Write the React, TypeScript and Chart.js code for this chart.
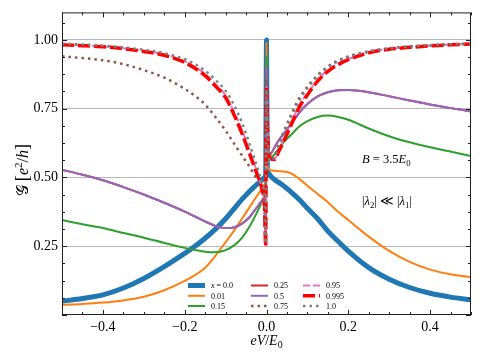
import React, { useEffect, useRef } from "react";
import { Chart, registerables } from "chart.js";

Chart.register(...registerables);

// ---------- data ----------
const xs = [
  -0.5, -0.45, -0.4, -0.35, -0.3, -0.25, -0.2, -0.175, -0.15, -0.125, -0.1, -0.08, -0.06, -0.04, -0.03, -0.02,
  -0.01, -0.005, -0.002, 0, 0.002, 0.005, 0.01, 0.02, 0.03, 0.04, 0.06, 0.08, 0.1, 0.125, 0.15, 0.175, 0.2,
  0.25, 0.3, 0.35, 0.4, 0.45, 0.5,
];

const g_x000 = [
  0.05, 0.06, 0.073, 0.098, 0.133, 0.176, 0.224, 0.25, 0.279, 0.312, 0.35, 0.385, 0.42, 0.452, 0.466, 0.479,
  0.492, 0.5, 0.51, 1.0, 0.53, 0.515, 0.505, 0.492, 0.482, 0.472, 0.447, 0.42, 0.388, 0.35, 0.305, 0.268, 0.232,
  0.172, 0.13, 0.1, 0.079, 0.065, 0.055,
];
const g_x001 = [
  0.037, 0.04, 0.045, 0.053, 0.066, 0.09, 0.124, 0.145, 0.172, 0.215, 0.265, 0.305, 0.35, 0.395, 0.418, 0.44,
  0.463, 0.475, 0.49, 0.99, 0.545, 0.53, 0.526, 0.524, 0.523, 0.522, 0.515, 0.495, 0.47, 0.44, 0.41, 0.375, 0.345,
  0.285, 0.233, 0.193, 0.165, 0.148, 0.137,
];
const g_x015 = [
  0.345, 0.33, 0.316, 0.298, 0.281, 0.262, 0.244, 0.236, 0.23, 0.228, 0.236, 0.252, 0.28, 0.325, 0.353, 0.383,
  0.415, 0.43, 0.45, 0.94, 0.6, 0.565, 0.57, 0.585, 0.605, 0.625, 0.655, 0.685, 0.705, 0.72, 0.725, 0.72, 0.71,
  0.678, 0.65, 0.628, 0.61, 0.594, 0.578,
];
const g_x025 = [
  0.528, 0.51, 0.49, 0.465, 0.438, 0.408, 0.376, 0.358, 0.34, 0.324, 0.316, 0.318, 0.332, 0.358, 0.378, 0.398,
  0.418, 0.43, 0.45, 0.9, 0.62, 0.58, 0.585, 0.61, 0.635, 0.655, 0.695, 0.735, 0.767, 0.795, 0.81, 0.817, 0.818,
  0.81, 0.795, 0.78, 0.765, 0.752, 0.74,
];
const g_x050 = [
  0.528, 0.51, 0.49, 0.465, 0.438, 0.408, 0.376, 0.358, 0.34, 0.324, 0.316, 0.318, 0.332, 0.358, 0.378, 0.398,
  0.418, 0.43, 0.45, 0.9, 0.62, 0.58, 0.585, 0.61, 0.635, 0.655, 0.695, 0.735, 0.767, 0.795, 0.81, 0.817, 0.818,
  0.81, 0.795, 0.78, 0.765, 0.752, 0.74,
];
const g_x075 = [
  0.94, 0.934, 0.926, 0.912, 0.89, 0.863, 0.822, 0.797, 0.765, 0.72, 0.67, 0.625, 0.58, 0.535, 0.51, 0.488,
  0.46, 0.43, 0.28, 0.855, 0.7, 0.6, 0.565, 0.58, 0.62, 0.658, 0.728, 0.788, 0.83, 0.872, 0.903, 0.925, 0.94,
  0.958, 0.969, 0.976, 0.98, 0.983, 0.986,
];
const g_x095 = [
  0.983, 0.98, 0.976, 0.97, 0.96, 0.947, 0.922, 0.902, 0.876, 0.84, 0.798, 0.74, 0.672, 0.59, 0.55, 0.507,
  0.455, 0.405, 0.25, 0.83, 0.7, 0.6, 0.565, 0.567, 0.6, 0.632, 0.698, 0.762, 0.806, 0.855, 0.89, 0.913, 0.931,
  0.955, 0.967, 0.974, 0.979, 0.983, 0.986,
];
const g_x0995 = [
  0.982, 0.979, 0.975, 0.968, 0.958, 0.944, 0.918, 0.897, 0.87, 0.832, 0.79, 0.73, 0.66, 0.58, 0.54, 0.5,
  0.45, 0.4, 0.25, 0.83, 0.7, 0.6, 0.568, 0.565, 0.595, 0.625, 0.69, 0.755, 0.8, 0.85, 0.886, 0.91, 0.928,
  0.953, 0.966, 0.973, 0.978, 0.982, 0.985,
];
const g_x100 = [
  0.986, 0.983, 0.979, 0.973, 0.964, 0.952, 0.93, 0.912, 0.888, 0.855, 0.815, 0.765, 0.7, 0.615, 0.57, 0.525,
  0.47, 0.42, 0.26, 0.82, 0.68, 0.59, 0.56, 0.575, 0.615, 0.65, 0.72, 0.78, 0.825, 0.868, 0.9, 0.922, 0.938,
  0.958, 0.969, 0.976, 0.981, 0.984, 0.987,
];

const seriesLabels = ["x = 0.0", "0.01", "0.15", "0.25", "0.5", "0.75", "0.95", "0.995", "1.0"];
const seriesValues = [g_x000, g_x001, g_x015, g_x025, g_x050, g_x075, g_x095, g_x0995, g_x100];

const xTickValues = [-0.4, -0.2, 0, 0.2, 0.4];
const yTickValues = [0.25, 0.5, 0.75, 1.0];

// ---------- styles ----------
const styles = [
  { color: "#1f77b4", width: 5, dash: [] as number[] },
  { color: "#ff7f0e", width: 2, dash: [] },
  { color: "#2ca02c", width: 2, dash: [] },
  { color: "#d62728", width: 2, dash: [] },
  { color: "#9467bd", width: 2, dash: [] },
  { color: "#8c564b", width: 2.5, dash: [2.5, 4] },
  { color: "#e377c2", width: 2, dash: [7, 3] },
  { color: "#ff0000", width: 3.5, dash: [12, 4] },
  { color: "#7f7f7f", width: 2.5, dash: [2.5, 4] },
];

const SERIF = '"Liberation Serif", "DejaVu Serif", serif';

type Seg = { t: string; it?: boolean; sub?: boolean; sup?: boolean; scale?: number };

function segFont(s: Seg, size: number) {
  const sz = (s.sub || s.sup ? size * 0.7 : size) * (s.scale || 1);
  return `${s.it ? "italic " : ""}${sz}px ${SERIF}`;
}

function drawRich(ctx: CanvasRenderingContext2D, segs: Seg[], x: number, y: number, size: number, align: "left" | "center") {
  let w = 0;
  for (const s of segs) {
    ctx.font = segFont(s, size);
    w += ctx.measureText(s.t).width;
  }
  let cx = align === "center" ? x - w / 2 : x;
  ctx.textAlign = "left";
  ctx.textBaseline = "alphabetic";
  for (const s of segs) {
    ctx.font = segFont(s, size);
    const dy = s.sub ? size * 0.22 : s.sup ? -size * 0.4 : 0;
    ctx.fillText(s.t, cx, y + dy);
    cx += ctx.measureText(s.t).width;
  }
}

const decorPlugin = {
  id: "decor",
  afterDraw(chart: any) {
    const ctx: CanvasRenderingContext2D = chart.ctx;
    const a = chart.chartArea;
    const sx = chart.scales.x;
    const sy = chart.scales.y;
    ctx.save();
    ctx.strokeStyle = "#222";
    ctx.lineWidth = 1;
    ctx.setLineDash([]);
    // frame
    ctx.strokeRect(a.left + 0.5, a.top + 0.5, a.right - a.left - 1, a.bottom - a.top - 1);
    // x ticks (major every 0.2, minor every 0.05), inward, top and bottom
    for (let k = -10; k <= 10; k++) {
      const v = k * 0.05;
      const major = k % 4 === 0;
      const len = major ? 5 : 3;
      const px = Math.round(sx.getPixelForValue(v)) + 0.5;
      ctx.beginPath();
      ctx.moveTo(px, a.bottom);
      ctx.lineTo(px, a.bottom - len);
      ctx.moveTo(px, a.top);
      ctx.lineTo(px, a.top + len);
      ctx.stroke();
    }
    // y ticks (major every 0.25, minor every 0.0625), inward, left and right
    for (let k = 0; k <= 17; k++) {
      const v = k * 0.0625;
      const major = k % 4 === 0;
      const len = major ? 5 : 3;
      const py = Math.round(sy.getPixelForValue(v)) + 0.5;
      ctx.beginPath();
      ctx.moveTo(a.left, py);
      ctx.lineTo(a.left + len, py);
      ctx.moveTo(a.right, py);
      ctx.lineTo(a.right - len, py);
      ctx.stroke();
    }

    // legend (3 columns, column-major)
    const colX = [188, 251, 303];
    const rowY = [285.5, 295.8, 306];
    const fs = 8;
    chart.data.datasets.forEach((ds: any, i: number) => {
      const col = Math.floor(i / 3);
      const row = i % 3;
      const x = colX[col];
      const y = rowY[row];
      ctx.save();
      ctx.strokeStyle = ds.borderColor;
      ctx.lineWidth = ds.borderWidth;
      ctx.setLineDash(ds.borderDash || []);
      ctx.lineCap = "butt";
      ctx.beginPath();
      ctx.moveTo(x, y);
      ctx.lineTo(x + 17, y);
      ctx.stroke();
      ctx.restore();
      ctx.fillStyle = "#000";
      const lab: string = ds.label;
      const segs: Seg[] = lab.startsWith("x") ? [{ t: "x", it: true }, { t: lab.slice(1) }] : [{ t: lab }];
      drawRich(ctx, segs, x + 23, y + 2.8, fs, "left");
    });

    // annotations
    ctx.fillStyle = "#000";
    drawRich(
      ctx,
      [{ t: "B", it: true }, { t: " = 3.5" }, { t: "E", it: true }, { t: "0", sub: true }],
      362,
      163,
      12.5,
      "left"
    );
    drawRich(
      ctx,
      [{ t: "|" }, { t: "λ", it: true }, { t: "2", sub: true }, { t: "| ≪ |" }, { t: "λ", it: true }, { t: "1", sub: true }, { t: "|" }],
      362,
      205,
      12.5,
      "left"
    );

    // axis titles
    drawRich(
      ctx,
      [{ t: "e", it: true }, { t: "V", it: true }, { t: "/" }, { t: "E", it: true }, { t: "0", sub: true }],
      (a.left + a.right) / 2,
      345,
      14,
      "center"
    );
    ctx.save();
    ctx.translate(28, 170);
    ctx.rotate(-Math.PI / 2);
    drawRich(
      ctx,
      [
        { t: "𝒢" },
        { t: " " },
        { t: "[", scale: 1.15 },
        { t: "e", it: true },
        { t: "2", sup: true },
        { t: "/" },
        { t: "h", it: true },
        { t: "]", scale: 1.15 },
      ],
      0,
      0,
      16,
      "center"
    );
    ctx.restore();
    ctx.restore();
  },
};

function fmtX(v: number) {
  const s = Math.abs(v).toFixed(1);
  return v < -1e-9 ? "\u2212" + s : s;
}

export default function App() {
  const ref = useRef<HTMLCanvasElement | null>(null);

  useEffect(() => {
    if (!ref.current) return;
    const n = seriesValues.length;
    const datasets = seriesValues.map((ys, i) => ({
      label: seriesLabels[i],
      data: xs.map((x, j) => ({ x, y: ys[j] })),
      borderColor: styles[i].color,
      backgroundColor: styles[i].color,
      borderWidth: styles[i].width,
      borderDash: styles[i].dash,
      borderCapStyle: styles[i].dash.length ? "butt" : "round",
      borderJoinStyle: "round",
      cubicInterpolationMode: "monotone",
      pointRadius: 0,
      fill: false,
      order: n - i,
    }));

    const chart = new Chart(ref.current, {
      type: "line",
      data: { datasets } as any,
      options: {
        animation: false,
        responsive: false,
        devicePixelRatio: 1,
        layout: { padding: { left: 8, top: 12, right: 13, bottom: 0 } },
        plugins: { legend: { display: false }, tooltip: { enabled: false } },
        scales: {
          x: {
            type: "linear",
            min: -0.5,
            max: 0.5,
            afterBuildTicks: (s: any) => {
              s.ticks = xTickValues.map((v) => ({ value: v }));
            },
            afterFit: (s: any) => {
              s.height = 48;
            },
            grid: { display: false, drawTicks: false },
            border: { display: false },
            ticks: {
              color: "#000",
              font: { family: SERIF, size: 14 },
              padding: 4,
              maxRotation: 0,
              autoSkip: false,
              callback: (v: any) => fmtX(Number(v)),
            },
          },
          y: {
            type: "linear",
            min: 0,
            max: 1.1,
            afterBuildTicks: (s: any) => {
              s.ticks = yTickValues.map((v) => ({ value: v }));
            },
            afterFit: (s: any) => {
              s.width = 54;
            },
            grid: { color: "#b8b8b8", lineWidth: 1, drawTicks: false },
            border: { display: false },
            ticks: {
              color: "#000",
              font: { family: SERIF, size: 14 },
              padding: 4,
              autoSkip: false,
              callback: (v: any) => Number(v).toFixed(2),
            },
          },
        },
      } as any,
      plugins: [decorPlugin],
    });
    return () => chart.destroy();
  }, []);

  return (
    <div style={{ position: "fixed", left: 0, top: 0, width: 484, height: 363, background: "#fff" }}>
      <canvas ref={ref} width={484} height={363} style={{ display: "block", width: 484, height: 363 }} />
    </div>
  );
}
